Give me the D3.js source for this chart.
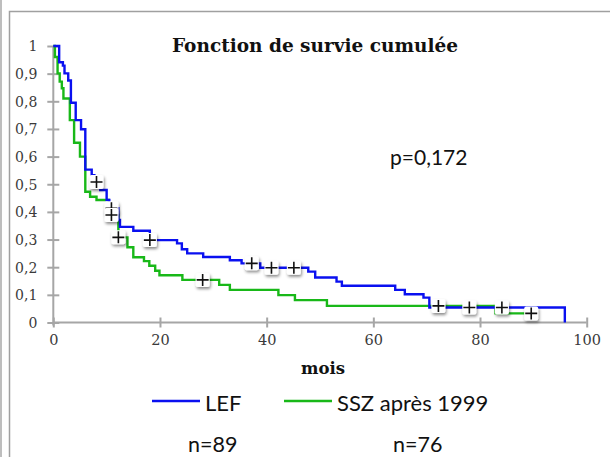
<!DOCTYPE html>
<html>
<head>
<meta charset="utf-8">
<script src="https://cdnjs.cloudflare.com/ajax/libs/d3/7.8.5/d3.min.js"></script>
<style>
  body { margin: 0; background: #fff; }
  svg { display: block; }
</style>
</head>
<body>
<svg width="610" height="457"></svg>
<script>
// survival steps (time in months, survival after the step)
let lefTime = [0, 1.1, 1.8, 2.1, 2.8, 3.3, 4.2, 5.2, 6.0, 7.2, 7.7, 8.8, 10.0, 10.5, 12.2, 12.5, 15.0, 18.1, 23.2, 24.1, 25.1, 28.1, 33.1, 35.3, 38.8, 47.8, 49.1, 53.1, 54.1, 64.1, 65.9, 69.4, 70.5, 95.9];
let lefSurv = [1, 0.941, 0.929, 0.901, 0.875, 0.795, 0.732, 0.699, 0.553, 0.533, 0.508, 0.479, 0.443, 0.413, 0.371, 0.346, 0.332, 0.298, 0.286, 0.265, 0.25, 0.237, 0.225, 0.214, 0.198, 0.184, 0.163, 0.148, 0.133, 0.118, 0.102, 0.09, 0.054, 0];
let lefCensored = [8.1, 10.9, 18.1, 37.2, 40.9, 45.1, 78.0, 84.1];

let sszTime = [0, 0.3, 0.8, 1.2, 1.6, 1.9, 3.1, 3.9, 5.0, 6.0, 6.9, 8.1, 10.4, 12.2, 13.9, 15.0, 17.0, 18.0, 19.1, 19.9, 24.2, 31.1, 33.1, 42.2, 45.3, 51.3, 82.9, 89.6];
let sszSurv = [1, 0.96, 0.901, 0.871, 0.847, 0.81, 0.732, 0.65, 0.6, 0.473, 0.455, 0.443, 0.389, 0.308, 0.272, 0.236, 0.222, 0.205, 0.187, 0.171, 0.154, 0.136, 0.118, 0.099, 0.081, 0.06, 0.033, 0.033];
let sszCensored = [10.9, 12.2, 28.0, 72.2, 89.6];

let xTicks = [0, 20, 40, 60, 80, 100];
let yTicks = [0, 0.1, 0.2, 0.3, 0.4, 0.5, 0.6, 0.7, 0.8, 0.9, 1];
let yTickLabels = ["0", "0,1", "0,2", "0,3", "0,4", "0,5", "0,6", "0,7", "0,8", "0,9", "1"];

let svg = d3.select("svg");

//frame lines
svg.append("line").attr("x1", 1).attr("x2", 1).attr("y1", 0).attr("y2", 457)
  .attr("stroke", "#a8a8a8").attr("stroke-width", 1.5);
svg.append("path").attr("d", "M9.5,457 L9.5,11.5 L610,11.5")
  .attr("fill", "none").attr("stroke", "#a0a0a0").attr("stroke-width", 1.5);

//shadow for censor marks
let defs = svg.append("defs");
let f = defs.append("filter").attr("id", "shadow").attr("x", "-50%").attr("y", "-50%").attr("width", "200%").attr("height", "200%");
f.append("feDropShadow").attr("dx", 1).attr("dy", 2).attr("stdDeviation", 1.5)
  .attr("flood-color", "#000").attr("flood-opacity", 0.45);

let x = d3.scaleLinear().domain([0, 100]).range([53.3, 586.7]);
let y = d3.scaleLinear().domain([0, 1]).range([322.5, 46]);

let axisColor = "#a6a6a6";

// Y axis
let yAxis = svg.append("g").attr("transform", "translate(" + x(0) + ",0)")
  .call(d3.axisLeft(y).tickValues(yTicks).tickSize(0).tickPadding(16)
    .tickFormat(function(d, i) { return yTickLabels[i]; }));
yAxis.select(".domain").remove();
yAxis.append("line").attr("y1", y(0) + 3).attr("y2", y(1))
  .attr("stroke", axisColor).attr("stroke-width", 2);
yAxis.selectAll(".tick").append("line").attr("x1", -6).attr("x2", 6)
  .attr("stroke", axisColor).attr("stroke-width", 2);
yAxis.selectAll(".tick text").attr("fill", "#3a3a3a")
  .style("font-family", "DejaVu Serif").style("font-size", "14px").attr("dy", "0.35em");

// X axis
let xAxis = svg.append("g").attr("transform", "translate(0," + y(0) + ")")
  .call(d3.axisBottom(x).tickValues(xTicks).tickSize(0).tickPadding(12));
xAxis.select(".domain").remove();
xAxis.append("line").attr("x1", x(0)).attr("x2", x(100))
  .attr("stroke", axisColor).attr("stroke-width", 2);
xAxis.selectAll(".tick").append("line").attr("y1", -5).attr("y2", 5)
  .attr("stroke", axisColor).attr("stroke-width", 2);
xAxis.selectAll(".tick text").attr("fill", "#3a3a3a")
  .style("font-family", "DejaVu Serif").style("font-size", "14.5px");

// curves
let line = d3.line()
  .x(function(d) { return x(d[0]); })
  .y(function(d) { return y(d[1]); })
  .curve(d3.curveStepAfter);

let lef = lefTime.map(function(t, i) { return [t, lefSurv[i]]; });
let ssz = sszTime.map(function(t, i) { return [t, sszSurv[i]]; });

svg.append("path").datum(ssz).attr("d", line)
  .attr("fill", "none").attr("stroke", "#18b818").attr("stroke-width", 2.4);
svg.append("path").datum(lef).attr("d", line)
  .attr("fill", "none").attr("stroke", "#0a10f0").attr("stroke-width", 2.4);

//survival at time t from a step list
function survAt(times, surv, t) {
  let s = surv[0];
  for (let i = 0; i < times.length; i++) {
    if (times[i] <= t) s = surv[i];
  }
  return s;
}

let marks = [];
lefCensored.forEach(function(t) { marks.push([t, survAt(lefTime, lefSurv, t)]); });
sszCensored.forEach(function(t) { marks.push([t, survAt(sszTime, sszSurv, t)]); });

let m = svg.selectAll(".cens").data(marks).enter().append("g").attr("class", "cens")
  .attr("transform", function(d) { return "translate(" + x(d[0]) + "," + y(d[1]) + ")"; });
m.append("rect").attr("x", -7).attr("y", -7).attr("width", 14).attr("height", 14).attr("rx", 2)
  .attr("fill", "#fff").attr("filter", "url(#shadow)");
m.append("path").attr("d", "M-6,0 H6 M0,-6 V6")
  .attr("stroke", "#111").attr("stroke-width", 1.6);

// texts
svg.append("text").attr("x", 315).attr("y", 52).attr("text-anchor", "middle")
  .style("font-family", "DejaVu Serif").style("font-weight", "bold").style("font-size", "18.5px")
  .attr("fill", "#111").text("Fonction de survie cumulée");
svg.append("text").attr("x", 323).attr("y", 374).attr("text-anchor", "middle")
  .style("font-family", "DejaVu Serif").style("font-weight", "bold").style("font-size", "16.5px")
  .attr("fill", "#111").text("mois");
svg.append("text").attr("x", 390).attr("y", 165)
  .style("font-family", "Lato").style("font-size", "21px").attr("fill", "#111").text("p=0,172");

// legend
let legend = [["LEF", "#0a10f0", 152], ["SSZ après 1999", "#18b818", 284]];
legend.forEach(function(l) {
  svg.append("line").attr("x1", l[2]).attr("x2", l[2] + 48).attr("y1", 401).attr("y2", 401)
    .attr("stroke", l[1]).attr("stroke-width", 2.4);
  svg.append("text").attr("x", l[2] + 53).attr("y", 411)
    .style("font-family", "Lato").style("font-size", "22px").attr("fill", "#111").text(l[0]);
});
svg.append("text").attr("x", 188).attr("y", 452)
  .style("font-family", "Lato").style("font-size", "21.5px").attr("fill", "#111").text("n=89");
svg.append("text").attr("x", 393).attr("y", 452)
  .style("font-family", "Lato").style("font-size", "21.5px").attr("fill", "#111").text("n=76");
</script>
</body>
</html>
